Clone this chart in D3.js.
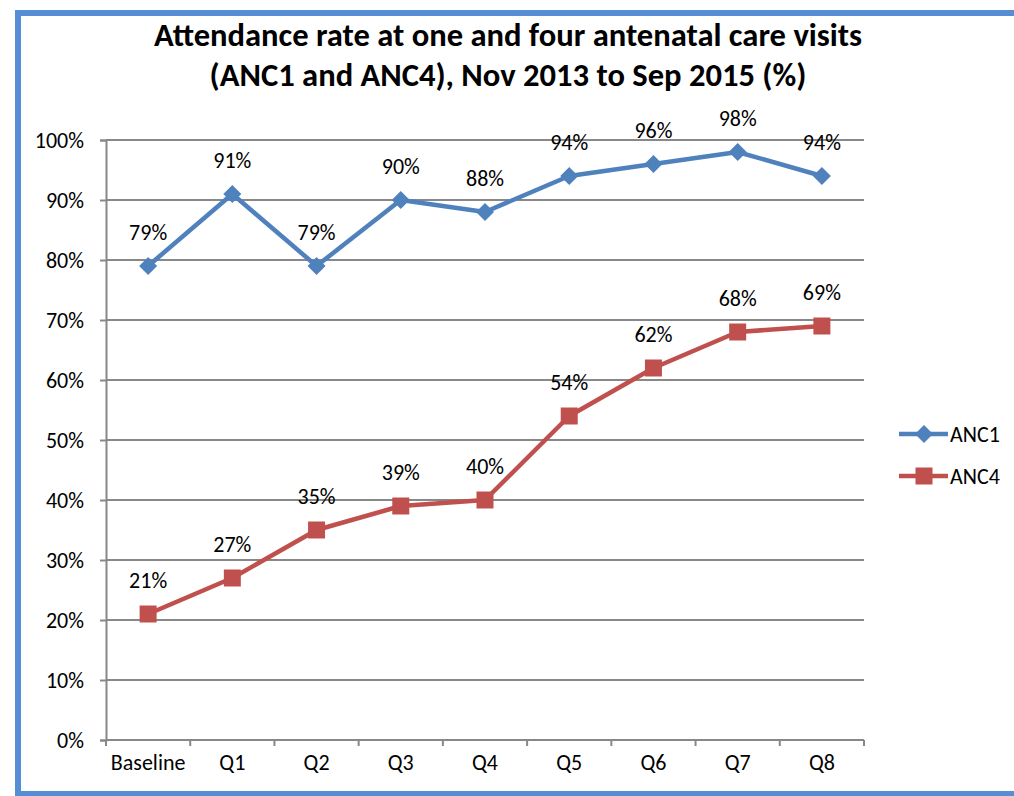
<!DOCTYPE html>
<html><head><meta charset="utf-8">
<script src="https://cdn.jsdelivr.net/npm/d3@7"></script>
<style>body{margin:0;background:#fff}svg{display:block}text{font-family:Carlito,"Open Sans","Liberation Sans",sans-serif}</style>
</head><body>
<svg id="c" width="1014" height="796"></svg>
<script>
const categories = ["Baseline","Q1","Q2","Q3","Q4","Q5","Q6","Q7","Q8"];
const anc1 = [79,91,79,90,88,94,96,98,94];
const anc4 = [21,27,35,39,40,54,62,68,69];
const yTicks = [0,10,20,30,40,50,60,70,80,90,100];
const titleLines = ["Attendance rate at one and four antenatal care visits","(ANC1 and ANC4), Nov 2013 to Sep 2015 (%)"];
const seriesNames = ["ANC1","ANC4"];

const FONT = 'Carlito,"Open Sans","Liberation Sans",sans-serif';
const svg = d3.select("#c");
svg.append("rect").attr("x",18).attr("y",13).attr("width",1014).attr("height",781)
  .attr("fill","#fff").attr("stroke","#558ED5").attr("stroke-width",6);

const L=106,R=864,T=140,B=740;
const x = d3.scaleBand().domain(categories).range([L,R]);
const y = d3.scaleLinear().domain([0,100]).range([B,T]);

svg.append("g").selectAll("text").data(titleLines).join("text")
  .attr("x",508).attr("y",(d,i)=>46+i*40).attr("text-anchor","middle")
  .attr("font-weight","bold").attr("font-size",32.6).attr("fill","#000").text(d=>d);

// gridlines
svg.append("g").selectAll("line").data(yTicks.filter(d=>d>0)).join("line")
  .attr("x1",L).attr("x2",R).attr("y1",d=>y(d)).attr("y2",d=>y(d))
  .attr("stroke","#888").attr("stroke-width",2);

const yAxis = svg.append("g").attr("transform",`translate(${L},0)`)
  .call(d3.axisLeft(y).tickValues(yTicks).tickFormat(d=>d+"%").tickSize(6).tickPadding(16));
yAxis.select(".domain").attr("stroke","#888").attr("stroke-width",2);
yAxis.selectAll(".tick line").attr("stroke","#888").attr("stroke-width",2);
yAxis.selectAll("text").attr("font-size",22).attr("fill","#000").attr("font-family",FONT);

const xAxis = svg.append("g").attr("transform",`translate(0,${B})`)
  .call(d3.axisBottom(x).tickSize(0).tickPadding(14));
xAxis.select(".domain").remove();
xAxis.append("line").attr("x1",L).attr("x2",R).attr("stroke","#888").attr("stroke-width",2);
xAxis.selectAll(".bnd").data(categories.concat(["end"])).join("line").attr("class","bnd")
  .attr("x1",(d,i)=>L+i*x.step()).attr("x2",(d,i)=>L+i*x.step()).attr("y1",0).attr("y2",6)
  .attr("stroke","#888").attr("stroke-width",2);
xAxis.selectAll("text").attr("font-size",22).attr("fill","#000").attr("font-family",FONT).attr("dy","0.71em");

const cx = c => x(c)+x.bandwidth()/2;
const colors = ["#4F81BD","#C0504D"];
const line = d3.line().x((d,i)=>cx(categories[i])).y(d=>y(d));
const diamond = "M0,-9L9,0L0,9L-9,0Z";
const square = "M-8.5,-8.5H8.5V8.5H-8.5Z";

[anc1,anc4].forEach((vals,si)=>{
  const g = svg.append("g");
  g.append("path").datum(vals).attr("d",line).attr("fill","none")
    .attr("stroke",colors[si]).attr("stroke-width",4.5).attr("stroke-linejoin","round");
  g.selectAll("path.m").data(vals).join("path").attr("class","m")
    .attr("d",si===0?diamond:square).attr("transform",(d,i)=>`translate(${cx(categories[i])},${y(d)})`)
    .attr("fill",colors[si]);
  g.selectAll("text").data(vals).join("text")
    .attr("x",(d,i)=>cx(categories[i])).attr("y",d=>y(d)-26)
    .attr("text-anchor","middle").attr("font-size",22).attr("fill","#000").text(d=>d+"%");
});

// legend
const lg = svg.append("g");
seriesNames.forEach((n,i)=>{
  const ly = 434 + i*42;
  lg.append("line").attr("x1",899).attr("x2",948).attr("y1",ly).attr("y2",ly)
    .attr("stroke",colors[i]).attr("stroke-width",4.5);
  lg.append("path").attr("d",i===0?diamond:square).attr("transform",`translate(924,${ly})`).attr("fill",colors[i]);
  lg.append("text").attr("x",950).attr("y",ly).attr("dy","0.35em").attr("font-size",22).attr("fill","#000").text(n);
});
</script>
</body></html>
